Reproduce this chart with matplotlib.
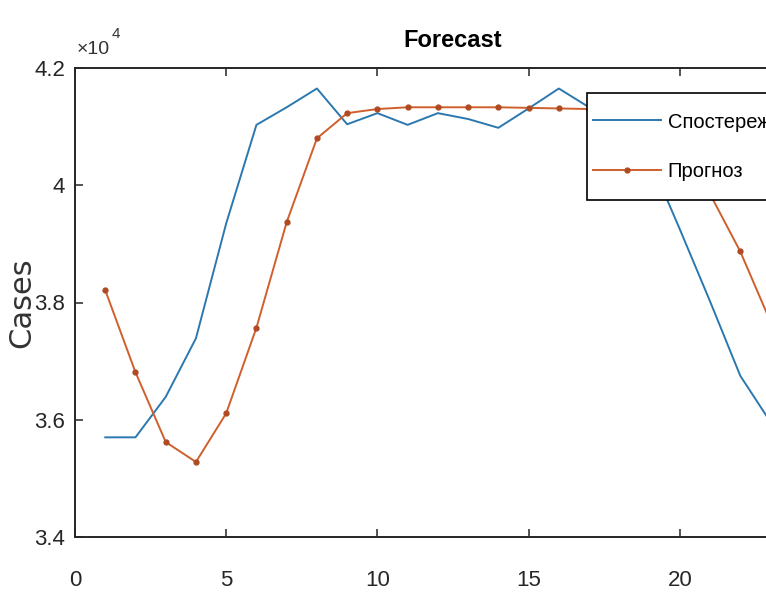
import matplotlib
matplotlib.use("Agg")
import matplotlib.pyplot as plt
from matplotlib.ticker import FuncFormatter

plt.rcParams['font.family'] = ['Liberation Sans', 'DejaVu Sans']

# data (cases)
days = list(range(1, 24))
observed = [35700, 35700, 36390, 37390, 39350, 41030, 41330, 41650, 41040,
            41230, 41030, 41230, 41130, 40980, 41310, 41650, 41330, 41000,
            40450, 39250, 38020, 36750, 35960]
forecast = [38210, 36810, 35620, 35280, 36110, 37570, 39370, 40800, 41230,
            41300, 41330, 41330, 41330, 41330, 41320, 41310, 41300, 41250,
            41100, 40600, 39850, 38870, 37670]

series_names = ['Спостереження', 'Прогноз']
x_ticks = [0, 5, 10, 15, 20]
y_ticks = [34000, 36000, 38000, 40000, 42000]

blue = '#2b78b0'
orange = '#cf5f2c'
axcol = '#262626'

fig = plt.figure(figsize=(7.66, 5.98), dpi=100)
ax = fig.add_axes([75 / 766, 1 - 537 / 598, 756 / 766, 469 / 598])

ax.plot(days, observed, color=blue, lw=1.4, label=series_names[0])
ax.plot(days, forecast, color=orange, lw=1.4, marker='o', ms=3.5,
        mfc='#b04a22', mec='#b04a22', label=series_names[1])

ax.set_xlim(0, 25)
ax.set_ylim(34000, 42000)
ax.set_xticks(x_ticks)
ax.set_yticks(y_ticks)
ax.yaxis.set_major_formatter(FuncFormatter(lambda v, p: '%g' % (v / 1e4)))

for s in ax.spines.values():
    s.set_color(axcol)
    s.set_linewidth(1.4)
ax.tick_params(direction='in', length=6, width=1.1, color=axcol,
               labelsize=16, labelcolor='#262626', top=True, right=True)
ax.tick_params(axis='x', pad=24)
ax.tick_params(axis='y', pad=7)

ax.set_title('Forecast', fontsize=17, fontweight='bold', pad=15, color='black')
ax.set_ylabel('Cases', fontsize=22, family='DejaVu Sans', color='#333333', va='center')
ax.yaxis.set_label_coords(-0.070, 0.5)

# exponent label like MATLAB
ax.text(0.002, 1.022, '×10', transform=ax.transAxes, fontsize=14,
        color='#333333', ha='left', va='bottom')
ax.text(0.049, 1.058, '4', transform=ax.transAxes, fontsize=11,
        color='#333333', ha='left', va='bottom')

# legend box: taller than its content, so pad the frame only vertically
fs_px = 14.5 * 100 / 72
vpad = 13.5
leg = ax.legend(loc='upper left', bbox_to_anchor=(587 / 766, 1 - (93 + vpad) / 598),
                bbox_transform=fig.transFigure, fontsize=14.5, frameon=True,
                fancybox=False, framealpha=1, edgecolor='black',
                handlelength=3.35, handletextpad=0.36,
                borderpad=0.3, labelspacing=1.5, borderaxespad=0, numpoints=1)
frame = leg.get_frame()
frame.set_linewidth(1.2)
frame.set_boxstyle('square', pad=0.01)
frame.set_mutation_aspect(vpad / (0.01 * fs_px))

fig.savefig('out.png', dpi=100, facecolor='white')
